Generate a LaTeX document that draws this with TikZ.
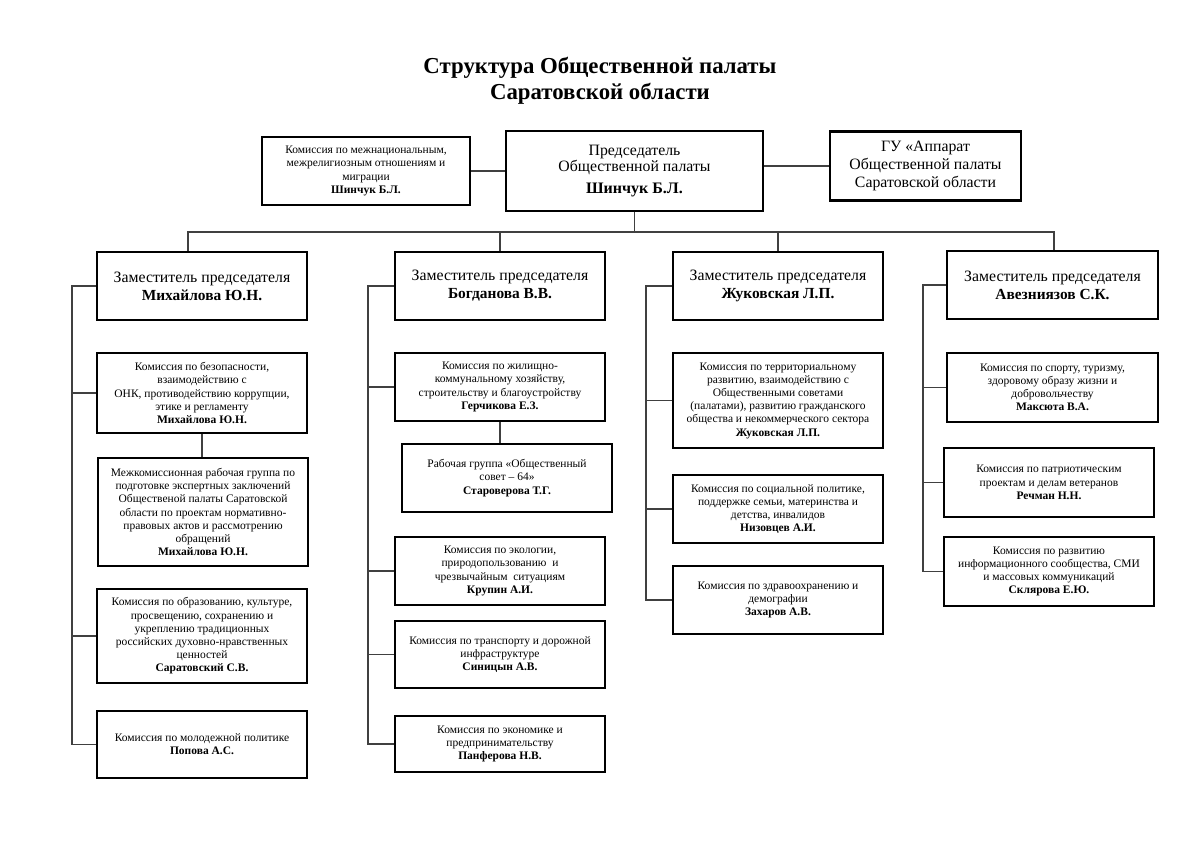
\documentclass[tikz,border=0pt]{standalone}
\usepackage{fontspec}
\setmainfont{Liberation Serif}
\begin{document}
\begin{tikzpicture}[x=1pt,y=-1pt,
  box/.style={draw=black, line width=2.6pt, align=center, inner sep=0pt, fill=white},
  sm/.style={font=\fontsize{11.5}{13.2}\selectfont},
  big/.style={font=\fontsize{15.8}{18}\selectfont},
  ln/.style={draw=black!75, line width=1.3pt},
]
\useasboundingbox[fill=white] (0,0) rectangle (1200,848);

% title
\node[align=center, font=\fontsize{22.8}{26}\selectfont\bfseries] (title) at (600,81)
  {Структура Общественной палаты\\Саратовской области};

% top row
\node[box, sm, minimum width=208, minimum height=68] (kom) at (366,171)
  {Комиссия по межнациональным,\\межрелигиозным отношениям и\\миграции\\\textbf{Шинчук Б.Л.}};
\node[box, font=\fontsize{15.8}{16.5}\selectfont, minimum width=257, minimum height=80] (chair) at (634.5,171)
  {Председатель\\Общественной палаты\\[5pt]{\fontsize{16}{19}\selectfont\bfseries Шинчук Б.Л.}};
\node[box, big, minimum width=191, minimum height=69] (gu) at (925.5,166)
  {ГУ «Аппарат\\Общественной палаты\\Саратовской области};

% deputies
\node[box, big, minimum width=210, minimum height=68] (d1) at (202,286)
  {Заместитель председателя\\{\fontsize{15.4}{19}\selectfont\bfseries Михайлова Ю.Н.}};
\node[box, big, minimum width=210, minimum height=68] (d2) at (500,286)
  {Заместитель председателя\\{\fontsize{15.4}{19}\selectfont\bfseries Богданова В.В.}};
\node[box, big, minimum width=210, minimum height=68] (d3) at (778,286)
  {Заместитель председателя\\{\fontsize{15.4}{19}\selectfont\bfseries Жуковская Л.П.}};
\node[box, big, minimum width=211, minimum height=68] (d4) at (1052.5,285)
  {Заместитель председателя\\{\fontsize{15.4}{19}\selectfont\bfseries Авезниязов С.К.}};

% column 1
\node[box, sm, minimum width=210, minimum height=80] (a1) at (202,393)
  {Комиссия по безопасности,\\взаимодействию с\\ОНК, противодействию коррупции,\\этике и регламенту\\\textbf{Михайлова Ю.Н.}};
\node[box, sm, minimum width=210, minimum height=108] (a2) at (203,512)
  {Межкомиссионная рабочая группа по\\подготовке экспертных заключений\\Общественой палаты Саратовской\\области по проектам нормативно-\\правовых актов и рассмотрению\\обращений\\\textbf{Михайлова Ю.Н.}};
\node[box, sm, minimum width=210, minimum height=94] (a3) at (202,636)
  {Комиссия по образованию, культуре,\\просвещению, сохранению и\\укреплению традиционных\\российских духовно-нравственных\\ценностей\\\textbf{Саратовский С.В.}};
\node[box, sm, minimum width=210, minimum height=67] (a4) at (202,744.5)
  {Комиссия по молодежной политике\\\textbf{Попова А.С.}};

% column 2
\node[box, sm, minimum width=210, minimum height=68] (b1) at (500,387)
  {Комиссия по жилищно-\\коммунальному хозяйству,\\строительству и благоустройству\\\textbf{Герчикова Е.З.}};
\node[box, sm, minimum width=210, minimum height=68] (b2) at (507,478)
  {Рабочая группа «Общественный\\совет – 64»\\\textbf{Староверова Т.Г.}};
\node[box, sm, minimum width=210, minimum height=68] (b3) at (500,571)
  {Комиссия по экологии,\\природопользованию\ \ и\\чрезвычайным\ \ ситуациям\\\textbf{Крупин А.И.}};
\node[box, sm, minimum width=210, minimum height=67] (b4) at (500,654.5)
  {Комиссия по транспорту и дорожной\\инфраструктуре\\\textbf{Синицын А.В.}};
\node[box, sm, minimum width=210, minimum height=56] (b5) at (500,744)
  {Комиссия по экономике и\\предпринимательству\\\textbf{Панферова Н.В.}};

% column 3
\node[box, sm, minimum width=210, minimum height=95] (c1) at (778,400.5)
  {Комиссия по территориальному\\развитию, взаимодействию с\\Общественными советами\\(палатами), развитию гражданского\\общества и некоммерческого сектора\\\textbf{Жуковская Л.П.}};
\node[box, sm, minimum width=210, minimum height=68] (c2) at (778,509)
  {Комиссия по социальной политике,\\поддержке семьи, материнства и\\детства, инвалидов\\\textbf{Низовцев А.И.}};
\node[box, sm, minimum width=210, minimum height=68] (c3) at (778,600)
  {Комиссия по здравоохранению и\\демографии\\\textbf{Захаров А.В.}};

% column 4
\node[box, sm, minimum width=211, minimum height=69] (e1) at (1052.5,387.5)
  {Комиссия по спорту, туризму,\\здоровому образу жизни и\\добровольчеству\\\textbf{Максюта В.А.}};
\node[box, sm, minimum width=210, minimum height=69] (e2) at (1049,482.5)
  {Комиссия по патриотическим\\проектам и делам ветеранов\\\textbf{Речман Н.Н.}};
\node[box, sm, minimum width=210, minimum height=69] (e3) at (1049,571.5)
  {Комиссия по развитию\\информационного сообщества, СМИ\\и массовых коммуникаций\\\textbf{Склярова Е.Ю.}};

% connectors: top
\draw[ln] (kom.east) -- (kom.east -| chair.west);
\draw[ln] (gu.west) -- (gu.west -| chair.east);
\coordinate (bL) at (188,232);
\coordinate (bR) at (1054,232);
\draw[ln] (bL |- d1.north) -- (bL) -- (bR) -- (bR |- d4.north);
\draw[ln] (chair.south) -- (chair.south |- bL);
\draw[ln] (d2.north) -- (d2.north |- bL);
\draw[ln] (d3.north) -- (d3.north |- bL);

% column 1 connectors
\coordinate (L1) at (72,0);
\draw[ln] (d1.west) -- (d1.west -| L1) -- (a4.west -| L1) -- (a4.west);
\draw[ln] (a1.west -| L1) -- (a1.west);
\draw[ln] (a3.west -| L1) -- (a3.west);
\draw[ln] (a1.south) -- (a1.south |- a2.north);

% column 2 connectors
\coordinate (L2) at (368,0);
\draw[ln] (d2.west) -- (d2.west -| L2) -- (b5.west -| L2) -- (b5.west);
\draw[ln] (b1.west -| L2) -- (b1.west);
\draw[ln] (b3.west -| L2) -- (b3.west);
\draw[ln] (b4.west -| L2) -- (b4.west);
\draw[ln] (b1.south) -- (b1.south |- b2.north);

% column 3 connectors
\coordinate (L3) at (646,0);
\draw[ln] (d3.west) -- (d3.west -| L3) -- (c3.west -| L3) -- (c3.west);
\draw[ln] (c1.west -| L3) -- (c1.west);
\draw[ln] (c2.west -| L3) -- (c2.west);

% column 4 connectors
\coordinate (L4) at (923,0);
\draw[ln] (d4.west) -- (d4.west -| L4) -- (e3.west -| L4) -- (e3.west);
\draw[ln] (e1.west -| L4) -- (e1.west);
\draw[ln] (e2.west -| L4) -- (e2.west);
\end{tikzpicture}
\end{document}
